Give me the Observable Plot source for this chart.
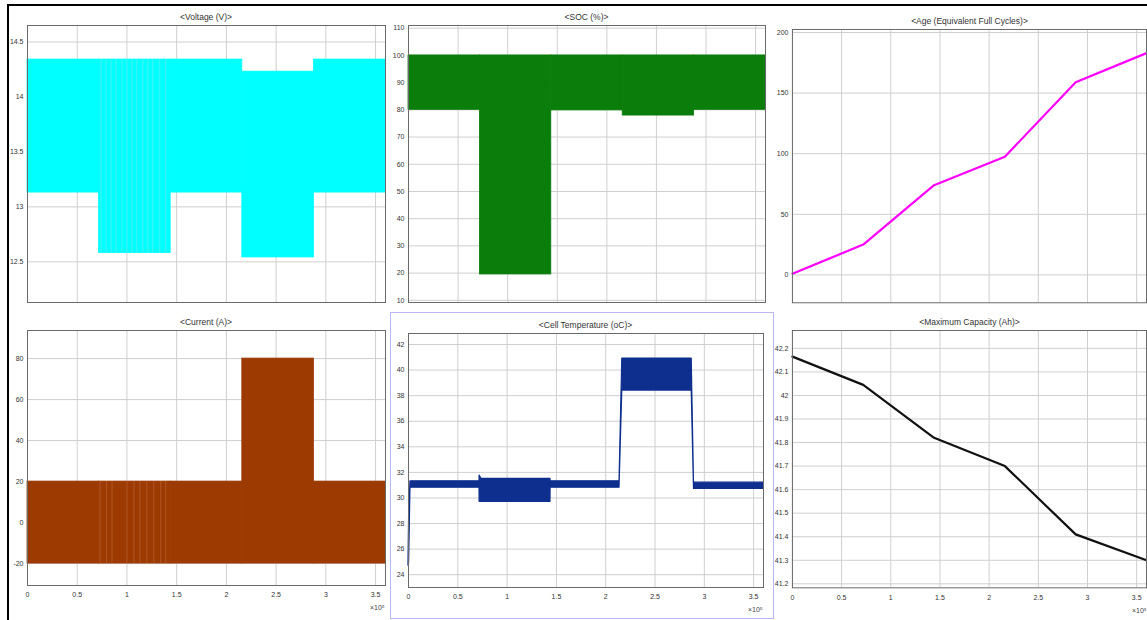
<!DOCTYPE html>
<html>
<head>
<meta charset="utf-8">
<script src="https://cdn.jsdelivr.net/npm/d3@7"></script>
<script src="https://cdn.jsdelivr.net/npm/@observablehq/plot@0.6"></script>
<style>
  html, body { margin: 0; padding: 0; background: #fff; }
  #root { position: relative; width: 1147px; height: 620px; overflow: hidden; font-family: Arial, "Liberation Sans", sans-serif; background: #fff; }
  .panel { position: absolute; }
  .panel svg { overflow: visible; }
  .title { position: absolute; font-size: 8.5px; color: #333; white-space: nowrap; transform: translateX(-50%); line-height: 1; }
  .expo { position: absolute; font-size: 7px; color: #444; white-space: nowrap; line-height: 1; }
  .outer { position: absolute; left: 7px; top: 4px; width: 1150px; height: 640px; border-left: 2px solid #000; border-top: 2px solid #000; }
  .sel { position: absolute; left: 390px; top: 312px; width: 382px; height: 305px; border: 1px solid #b9b9f2; }
</style>
</head>
<body>
<div id="root">
  <div class="outer"></div>
  <div class="sel"></div>
</div>
<script>
// ---------- data ----------
const segEdges   = [0, 0.72, 1.44, 2.16, 2.88, 3.6];        // x (×10^5)
const voltageHi  = [14.34, 14.34, 14.34, 14.23, 14.34];
const voltageLo  = [13.13, 12.58, 13.13, 12.54, 13.13];
const socHi      = [100, 100, 100, 100, 100];
const socLo      = [80, 19.5, 79.8, 77.9, 80];
const currentHi  = [20, 20, 20, 80, 20];
const currentLo  = [-20, -20, -20, -20, -20];
const voltageStripesX = [0.74, 0.79, 0.84, 0.89, 0.95, 1.0, 1.05, 1.10, 1.16, 1.21, 1.26, 1.33, 1.39];
const currentStripesX = [0.73, 0.795, 0.85, 1.0, 1.07, 1.13, 1.2, 1.27, 1.34, 1.39];

const ageX = [0, 0.72, 1.44, 2.16, 2.88, 3.6];
const ageY = [1, 25, 74, 97.5, 159, 183];

const capX = [0, 0.72, 1.44, 2.16, 2.88, 3.6];
const capY = [42.165, 42.045, 41.82, 41.70, 41.41, 41.30];

const tempX  = [0,    0.006, 0.02, 0.72, 0.721, 0.74, 1.44, 1.441, 2.14, 2.168, 2.872, 2.895, 3.6];
const tempHi = [25.0, 28.5,  31.3, 31.3, 31.75, 31.5, 31.5, 31.3,  31.3, 40.9,  40.9,  31.2,  31.2];
const tempLo = [24.7, 24.9,  30.8, 30.8, 29.7,  29.7, 29.7, 30.8,  30.8, 38.4,  38.4,  30.7,  30.7];

const xTicks = [0, 0.5, 1, 1.5, 2, 2.5, 3, 3.5];
const voltageTicks = [12.5, 13, 13.5, 14, 14.5];
const socTicks = [10, 20, 30, 40, 50, 60, 70, 80, 90, 100, 110];
const ageTicks = [0, 50, 100, 150, 200];
const currentTicks = [-20, 0, 20, 40, 60, 80];
const tempTicks = [24, 26, 28, 30, 32, 34, 36, 38, 40, 42];
const capTicks = [41.2, 41.3, 41.4, 41.5, 41.6, 41.7, 41.8, 41.9, 42, 42.1, 42.2];

const titles = ["<Voltage (V)>", "<SOC (%)>", "<Age (Equivalent Full Cycles)>",
                "<Current (A)>", "<Cell Temperature (oC)>", "<Maximum Capacity  (Ah)>"];
const expoLabel = "×10⁵";

// ---------- helpers ----------
const root = document.getElementById("root");
const segs = (hi, lo) => segEdges.slice(0, -1).map((x, i) => ({x1: x, x2: segEdges[i + 1], y1: lo[i], y2: hi[i]}));
const series = (xs, ys) => xs.map((x, i) => ({x, y: ys[i]}));
const fmt = d => String(+d.toFixed(3)).replace("-", "-");
const band = (data, color) => Plot.rect(data, {x1: "x1", x2: "x2", y1: "y1", y2: "y2", fill: color, stroke: color, strokeWidth: 0.8});

function panel({left, top, w, h, yDomain, yTicks, marks, bottom, title}) {
  const mL = 26, mR = 1, mT = 4, mB = bottom ? 24 : 4;
  const chart = Plot.plot({
    width: mL + w + mR, height: mT + h + mB,
    marginLeft: mL, marginRight: mR, marginTop: mT, marginBottom: mB,
    style: {fontSize: "7px", fontFamily: "Arial, 'Liberation Sans', sans-serif", color: "#333", background: "transparent", overflow: "visible"},
    x: bottom
      ? {domain: [0, 3.6], ticks: xTicks, tickSize: 0, tickPadding: 7, tickFormat: fmt, label: null}
      : {domain: [0, 3.6], axis: null},
    y: {domain: yDomain, ticks: yTicks, tickSize: 0, tickPadding: 4, tickFormat: fmt, label: null},
    marks: [
      Plot.ruleX(xTicks, {stroke: "#cfcfcf", strokeWidth: 1}),
      Plot.ruleY(yTicks, {stroke: "#cfcfcf", strokeWidth: 1}),
      ...marks,
      Plot.frame({stroke: "#6a6a6a", strokeWidth: 1})
    ]
  });
  const div = document.createElement("div");
  div.className = "panel";
  div.style.left = (left - mL) + "px";
  div.style.top = (top - mT) + "px";
  div.appendChild(chart);
  root.appendChild(div);

  const t = document.createElement("div");
  t.className = "title";
  t.textContent = title;
  t.style.left = (left + w / 2) + "px";
  t.style.top = (top - 12) + "px";
  root.appendChild(t);

  if (bottom) {
    const e = document.createElement("div");
    e.className = "expo";
    e.textContent = expoLabel;
    e.style.left = (left + w - 15) + "px";
    e.style.top = (top + h + 19) + "px";
    root.appendChild(e);
  }
}

// ---------- panels ----------
panel({
  left: 27, top: 25, w: 358, h: 277, title: titles[0],
  yDomain: [12.13, 14.65], yTicks: voltageTicks,
  marks: [
    band(segs(voltageHi, voltageLo), "#00ffff"),
    Plot.ruleX(voltageStripesX, {y1: voltageLo[1], y2: voltageHi[1], stroke: "#6aeaf0", strokeWidth: 0.7})
  ]
});

panel({
  left: 408, top: 25, w: 357, h: 277, title: titles[1],
  yDomain: [9.2, 111], yTicks: socTicks,
  marks: [
    band(segs(socHi, socLo), "#0b7d0b")
  ]
});

panel({
  left: 792, top: 29, w: 355, h: 274, title: titles[2],
  yDomain: [-23, 202.5], yTicks: ageTicks,
  marks: [
    Plot.line(series(ageX, ageY), {x: "x", y: "y", stroke: "#ff00ff", strokeWidth: 2.2})
  ]
});

panel({
  left: 27, top: 330, w: 358, h: 255, title: titles[3], bottom: true,
  yDomain: [-30.7, 93.7], yTicks: currentTicks,
  marks: [
    band(segs(currentHi, currentLo), "#9c3a02"),
    Plot.ruleX(currentStripesX, {y1: currentLo[1], y2: currentHi[1], stroke: "#c9734a", strokeWidth: 0.8, strokeOpacity: 0.6})
  ]
});

panel({
  left: 408, top: 333, w: 355, h: 254, title: titles[4], bottom: true,
  yDomain: [23, 42.86], yTicks: tempTicks,
  marks: [
    Plot.areaY(tempX.map((x, i) => ({x, lo: tempLo[i], hi: tempHi[i]})),
      {x: "x", y1: "lo", y2: "hi", fill: "#0f2f8e", stroke: "#0f2f8e", strokeWidth: 1.2})
  ]
});

panel({
  left: 792, top: 330, w: 355, h: 258, title: titles[5], bottom: true,
  yDomain: [41.183, 42.276], yTicks: capTicks,
  marks: [
    Plot.line(series(capX, capY), {x: "x", y: "y", stroke: "#111", strokeWidth: 2.2})
  ]
});
</script>
</body>
</html>
